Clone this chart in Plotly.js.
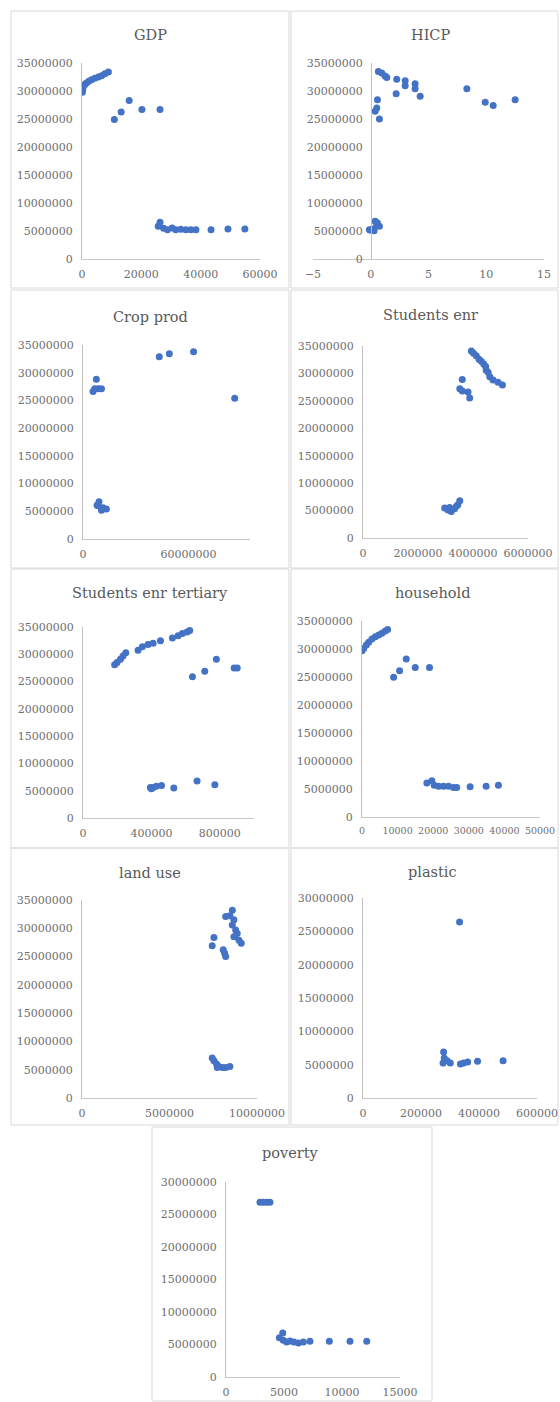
<!DOCTYPE html>
<html>
<head>
<meta charset="utf-8">
<script src="https://cdn.plot.ly/plotly-3.0.1.min.js"></script>
<style>html,body{margin:0;padding:0;background:#fff;}</style>
</head>
<body>
<div id="chart" style="width:560px;height:1402px;"></div>
<script>
// ---- data: each panel plots the same outcome (y) against one indicator (x) ----
const gdpX = [100, 250, 400, 900, 1500, 2300, 3200, 4300, 5500, 6600, 7700, 8900,
  10900, 13200, 15900, 20200, 26300,
  25700, 26300, 27500, 28800, 30400, 31600, 33300, 35000, 36700, 38400, 43500, 49200, 54900];
const gdpY = [29760000, 30240000, 30710000, 31130000, 31430000, 31730000, 32020000, 32260000, 32500000, 32740000, 33100000, 33390000,
  24900000, 26250000, 28300000, 26700000, 26700000,
  5830000, 6550000, 5500000, 5240000, 5540000, 5240000, 5300000, 5240000, 5240000, 5240000, 5240000, 5360000, 5360000];

const hicpX = [0.66, 0.95, 1.24, 1.39, 2.25, 2.98, 2.98, 3.84, 3.84, 4.28, 2.2, 8.32, 9.91, 10.6, 12.5,
  0.58, 0.52, 0.38, 0.75,
  -0.12, 0.17, 0.38, 0.52, 0.75, 0.29, 0.03, 0.58];
const hicpY = [33500000, 33200000, 32700000, 32400000, 32100000, 31850000, 30950000, 31300000, 30400000, 29050000, 29500000, 30400000, 28000000, 27400000, 28450000,
  28450000, 26960000, 26400000, 25000000,
  5240000, 5360000, 6730000, 5950000, 5830000, 5060000, 5120000, 6430000];

const cropX = [7600000, 6700000, 8600000, 10500000, 5700000, 43400000, 49100000, 62900000, 86300000,
  9100000, 8600000, 11400000, 13300000, 10500000, 8000000];
const cropY = [28800000, 27100000, 27100000, 27100000, 26600000, 32900000, 33400000, 33800000, 25400000,
  6740000, 6000000, 5660000, 5400000, 5170000, 6100000];

const studX = [3940000, 4020000, 4120000, 4220000, 4300000, 4390000, 4460000, 4480000, 4550000, 4610000, 4730000, 4910000, 5070000,
  3610000, 3520000, 3610000, 3820000, 3880000,
  2970000, 3090000, 3210000, 3330000, 3450000, 3520000, 3390000, 3150000];
const studY = [34100000, 33700000, 33200000, 32600000, 32200000, 31700000, 31250000, 30600000, 30200000, 29400000, 28800000, 28400000, 27900000,
  28900000, 27200000, 26800000, 26600000, 25500000,
  5460000, 5100000, 4850000, 5340000, 6070000, 6800000, 5760000, 5580000];

const tertX = [185000, 199000, 219000, 234000, 250000, 322000, 347000, 380000, 410000, 453000, 523000, 556000, 581000, 609000, 624000,
  640000, 712000, 780000, 884000, 902000,
  394000, 410000, 429000, 459000, 531000, 667000, 771000, 400000];
const tertY = [28100000, 28500000, 29100000, 29700000, 30300000, 30750000, 31400000, 31800000, 32000000, 32500000, 33000000, 33400000, 33800000, 34100000, 34350000,
  25900000, 26900000, 29100000, 27500000, 27500000,
  5600000, 5600000, 5800000, 5970000, 5480000, 6800000, 6090000, 5360000];

const houseX = [0, 470, 1210, 1870, 2800, 3740, 4670, 5600, 6540, 7200,
  8880, 10560, 12430, 14950, 18970,
  18220, 19630, 20280, 21500, 22900, 24300, 25700, 26600, 30370, 34860, 38320];
const houseY = [29700000, 30100000, 30700000, 31200000, 31800000, 32200000, 32500000, 32800000, 33200000, 33500000,
  24970000, 26100000, 28200000, 26700000, 26700000,
  6060000, 6480000, 5650000, 5470000, 5470000, 5470000, 5290000, 5290000, 5410000, 5470000, 5650000];

const landX = [8590000, 8450000, 8210000, 8680000, 8590000, 8780000, 8870000, 8680000, 8970000, 9100000,
  7540000, 7440000, 8070000, 8150000, 8210000,
  7440000, 7540000, 7690000, 7820000, 8020000, 8210000, 8450000, 7730000];
const landY = [33200000, 32200000, 32100000, 31500000, 30600000, 29700000, 29100000, 28500000, 27900000, 27350000,
  28350000, 26900000, 26200000, 25600000, 25000000,
  7060000, 6590000, 6000000, 5590000, 5410000, 5410000, 5590000, 5410000];

const plasticX = [333000, 278000, 280000, 276000, 290000, 301000, 336000, 347000, 361000, 395000, 483000];
const plasticY = [26400000, 6900000, 6000000, 5250000, 5600000, 5250000, 5100000, 5250000, 5400000, 5500000, 5600000];

const povX = [2930, 3220, 3500, 3790, 4600, 4890, 4940, 5230, 5520, 5860, 6240, 6670, 7240, 8910, 10690, 12130];
const povY = [26900000, 26900000, 26900000, 26900000, 6050000, 6770000, 5640000, 5380000, 5540000, 5380000, 5230000, 5380000, 5490000, 5490000, 5490000, 5490000];

// tick values
const yTicks35 = [0, 5000000, 10000000, 15000000, 20000000, 25000000, 30000000, 35000000];
const yTicks30 = [0, 5000000, 10000000, 15000000, 20000000, 25000000, 30000000];
const gdpTicks = [0, 20000, 40000, 60000];
const hicpTicks = [-5, 0, 5, 10, 15];
const cropTicks = [0, 60000000];
const studTicks = [0, 2000000, 4000000, 6000000];
const tertTicks = [0, 400000, 800000];
const houseTicks = [0, 10000, 20000, 30000, 40000, 50000];
const landTicks = [0, 5000000, 10000000];
const plasticTicks = [0, 200000, 400000, 600000];
const povTicks = [0, 5000, 10000, 15000];

// ---- layout of the panels (pixel geometry) ----
const W = 560, H = 1402;
const panels = [
  {title: 'GDP', x: gdpX, y: gdpY, plot: [82, 260, 63, 259], box: [11, 11, 289, 288], t: [150, 35], xr: [0, 60000], xt: gdpTicks, yr: [0, 35000000], yt: yTicks35},
  {title: 'HICP', x: hicpX, y: hicpY, plot: [313, 544, 63, 259], box: [291, 11, 558, 288], t: [430, 35], xr: [-5, 15], xt: hicpTicks, yr: [0, 35000000], yt: yTicks35, yAxisAt: 371},
  {title: 'Crop prod', x: cropX, y: cropY, plot: [83, 250, 345, 539], box: [11, 290, 289, 568], t: [150, 317], xr: [0, 95000000], xt: cropTicks, yr: [0, 35000000], yt: yTicks35},
  {title: 'Students enr', x: studX, y: studY, plot: [363, 528, 346, 538], box: [291, 290, 558, 568], t: [430, 315], xr: [0, 6000000], xt: studTicks, yr: [0, 35000000], yt: yTicks35},
  {title: 'Students enr tertiary', x: tertX, y: tertY, plot: [83, 254, 627, 818], box: [11, 569, 289, 848], t: [150, 593], xr: [0, 1000000], xt: tertTicks, yr: [0, 35000000], yt: yTicks35},
  {title: 'household', x: houseX, y: houseY, plot: [362, 540, 621, 817], box: [291, 569, 558, 848], t: [432, 593], xr: [0, 50000], xt: houseTicks, yr: [0, 35000000], yt: yTicks35, xFontSize: 9.5},
  {title: 'land use', x: landX, y: landY, plot: [82, 257, 900, 1098], box: [11, 848, 289, 1125], t: [150, 873], xr: [0, 10000000], xt: landTicks, yr: [0, 35000000], yt: yTicks35},
  {title: 'plastic', x: plasticX, y: plasticY, plot: [363, 537, 898, 1098], box: [291, 848, 558, 1125], t: [432, 872], xr: [0, 600000], xt: plasticTicks, yr: [0, 30000000], yt: yTicks30},
  {title: 'poverty', x: povX, y: povY, plot: [226, 400, 1182, 1377], box: [152, 1127, 432, 1401], t: [290, 1153], xr: [0, 15000], xt: povTicks, yr: [0, 30000000], yt: yTicks30}
];

const px = v => v / W;
const py = v => 1 - v / H;

const tickFont = {family: 'DejaVu Serif', size: 11, color: '#6e6e6e'};
const titleFont = {family: 'DejaVu Serif', size: 14.5, color: '#595959'};

const traces = [];
const layout = {
  width: W, height: H,
  margin: {l: 0, r: 0, t: 0, b: 0},
  paper_bgcolor: '#fff', plot_bgcolor: 'rgba(0,0,0,0)',
  showlegend: false,
  annotations: [], shapes: []
};

panels.forEach((p, i) => {
  const n = i === 0 ? '' : String(i + 1);
  traces.push({
    type: 'scatter', mode: 'markers',
    x: p.x, y: p.y,
    xaxis: 'x' + n, yaxis: 'y' + n,
    marker: {size: 7, color: '#4472C4', line: {width: 0}},
    hoverinfo: 'x+y'
  });
  const xa = {
    domain: [px(p.plot[0]), px(p.plot[1])],
    range: p.xr, tickvals: p.xt, tickformat: 'd', tickangle: 0,
    anchor: 'y' + n,
    showgrid: false, zeroline: false,
    showline: true, linecolor: '#c8c8c8', linewidth: 1,
    ticks: '', tickfont: Object.assign({}, tickFont, p.xFontSize ? {size: p.xFontSize} : {}),
    ticklabelstandoff: 5,
    fixedrange: true
  };
  const ya = {
    domain: [py(p.plot[3]), py(p.plot[2])],
    range: p.yr, tickvals: p.yt, tickformat: 'd',
    anchor: 'x' + n,
    showgrid: false, zeroline: false,
    showline: true, linecolor: '#bfbfbf', linewidth: 1,
    ticks: '', tickfont: tickFont, ticklabelstandoff: 6,
    fixedrange: true
  };
  if (p.yAxisAt !== undefined) {
    // vertical axis crosses the horizontal axis at x = 0
    ya.anchor = 'free';
    ya.position = px(p.yAxisAt);
  }
  layout['xaxis' + n] = xa;
  layout['yaxis' + n] = ya;

  layout.annotations.push({
    text: p.title, xref: 'paper', yref: 'paper',
    x: px(p.t[0]), y: py(p.t[1]),
    xanchor: 'center', yanchor: 'middle',
    showarrow: false, font: titleFont
  });
  layout.shapes.push({
    type: 'rect', xref: 'paper', yref: 'paper',
    x0: px(p.box[0]), x1: px(p.box[2]),
    y0: py(p.box[3]), y1: py(p.box[1]),
    line: {color: '#d9d9d9', width: 1},
    fillcolor: 'rgba(0,0,0,0)', layer: 'below'
  });
});

Plotly.newPlot('chart', traces, layout, {staticPlot: true, displayModeBar: false});
</script>
</body>
</html>
